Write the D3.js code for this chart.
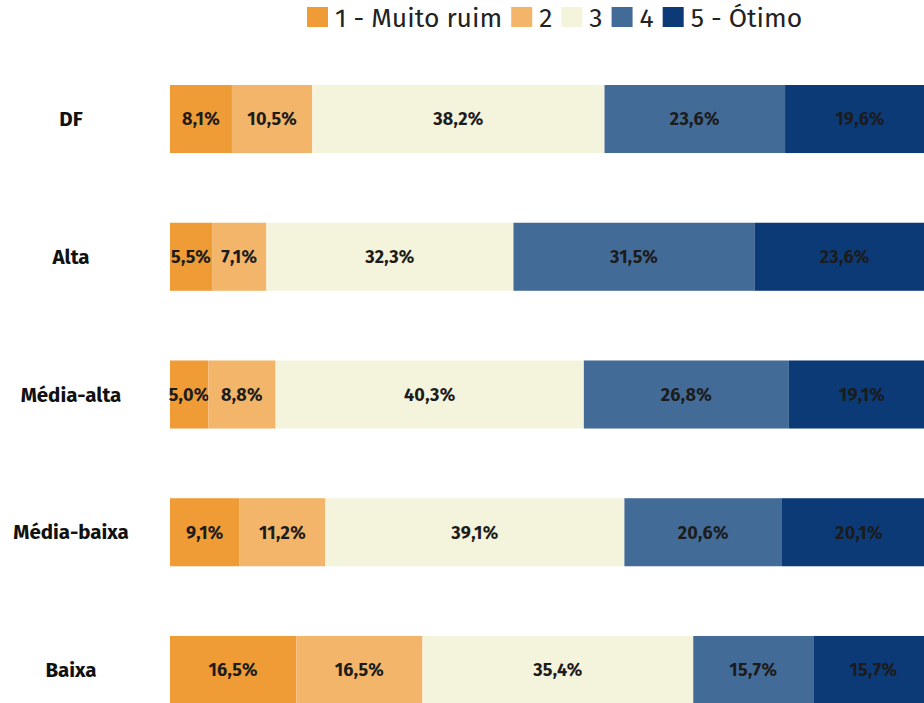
<!DOCTYPE html>
<html><head><meta charset="utf-8">
<script src="https://cdn.jsdelivr.net/npm/d3@7"></script>
<style>
html,body{margin:0;padding:0;background:#fff;overflow:hidden;}
svg{display:block;}
</style></head>
<body>
<script>
const categories = ["DF","Alta","Média-alta","Média-baixa","Baixa"];
const seriesNames = ["1 - Muito ruim","2","3","4","5 - Ótimo"];
const s1 = [8.1,5.5,5.0,9.1,16.5];
const s2 = [10.5,7.1,8.8,11.2,16.5];
const s3 = [38.2,32.3,40.3,39.1,35.4];
const s4 = [23.6,31.5,26.8,20.6,15.7];
const s5 = [19.6,23.6,19.1,20.1,15.7];
const colors = ["#F09C36","#F2B56A","#F4F3DC","#436B97","#0B3A77"];

const W = 924, H = 703;
const font = "'Fira Sans','Open Sans','Noto Sans',sans-serif";
const svg = d3.select("body").append("svg").attr("width",W).attr("height",H)
  .style("font-family",font);

const keys = ["k0","k1","k2","k3","k4"];
const rows = categories.map((c,i)=>({cat:c,k0:s1[i],k1:s2[i],k2:s3[i],k3:s4[i],k4:s5[i]}));
const stacked = d3.stack().keys(keys)(rows);

const x = d3.scaleLinear().domain([0,100]).range([170,935]);
const y = d3.scaleBand().domain(categories).range([85,704]).paddingInner(0.506).paddingOuter(0);

const g = svg.append("g");
stacked.forEach((layer,li)=>{
  const lg = g.append("g");
  lg.selectAll("rect").data(layer).join("rect")
    .attr("x",d=>x(d[0])).attr("width",d=>x(d[1])-x(d[0]))
    .attr("y",d=>y(d.data.cat)).attr("height",y.bandwidth())
    .attr("fill",colors[li]);
  lg.selectAll("text").data(layer).join("text")
    .attr("x",d=>(x(d[0])+x(d[1]))/2)
    .attr("y",d=>y(d.data.cat)+y.bandwidth()/2)
    .attr("dy","0.35em").attr("text-anchor","middle")
    .attr("font-size",18).attr("font-weight",700).attr("fill","#1c1c1c")
    .attr("letter-spacing",0.3)
    .text(d=>(d[1]-d[0]).toFixed(1).replace(".",",")+"%");
});

// category labels
svg.append("g").selectAll("text").data(categories).join("text")
  .attr("x",71).attr("y",d=>y(d)+y.bandwidth()/2).attr("dy","0.35em")
  .attr("text-anchor","middle").attr("font-size",20.5).attr("font-weight",700)
  .attr("fill","#111").text(d=>d);

// legend
const leg = svg.append("g");
let lx = 307;
seriesNames.forEach((n,i)=>{
  leg.append("rect").attr("x",lx).attr("y",7).attr("width",21).attr("height",20).attr("fill",colors[i]);
  const t = leg.append("text").attr("x",lx+28).attr("y",27).attr("font-size",26.5)
    .attr("fill","#222").text(n);
  const w = t.node().getComputedTextLength();
  lx += 28 + w + 9;
});
</script>
</body></html>
